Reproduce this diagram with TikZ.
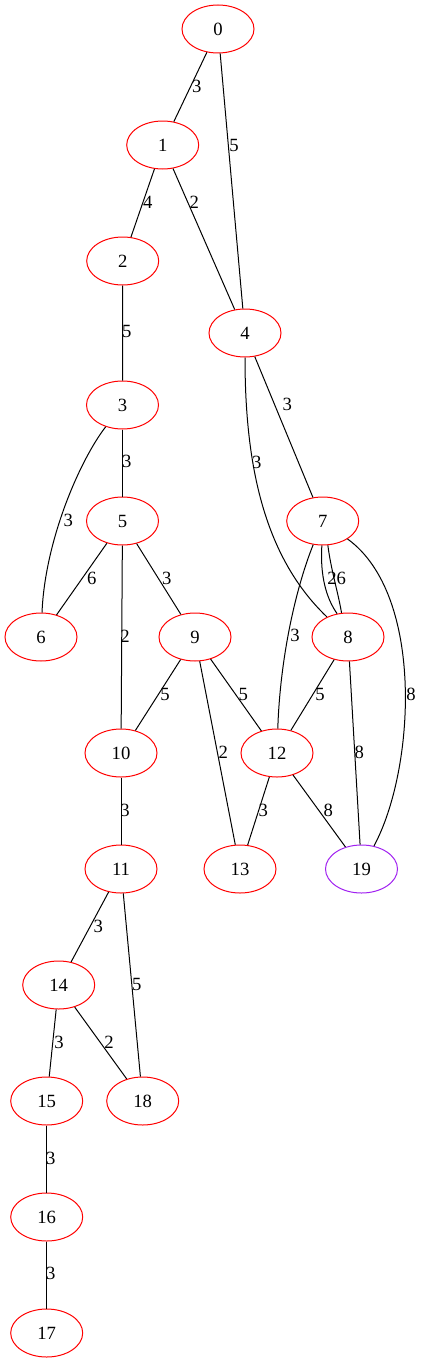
\documentclass[tikz,border=0pt]{standalone}
\usepackage{fontspec}
\setmainfont{Liberation Serif}
\usetikzlibrary{shapes.geometric}
\definecolor{gvpurple}{HTML}{A020F0}
\begin{document}
\begin{tikzpicture}[x=0.75pt,y=-0.75pt,
  gnode/.style={ellipse, draw=red, line width=0.75pt, minimum width=54pt, minimum height=36pt, inner sep=0pt, font=\fontsize{14}{16}\selectfont},
  elbl/.style={inner sep=0pt, font=\fontsize{14}{16}\selectfont},
  gedge/.style={line width=0.75pt, draw=black}]
\useasboundingbox (0,0) rectangle (421,1363);
% nodes
\node[gnode] (n0) at (218,29) {0};
\node[gnode] (n1) at (162.7,145) {1};
\node[gnode] (n2) at (122.7,261) {2};
\node[gnode] (n4) at (245,333) {4};
\node[gnode] (n3) at (122.5,405) {3};
\node[gnode] (n5) at (122.5,521) {5};
\node[gnode] (n7) at (322.7,521) {7};
\node[gnode] (n6) at (41,637) {6};
\node[gnode] (n9) at (195,637) {9};
\node[gnode] (n8) at (348,637) {8};
\node[gnode] (n10) at (121,753) {10};
\node[gnode] (n12) at (277,753) {12};
\node[gnode] (n11) at (121,869) {11};
\node[gnode] (n13) at (240,869) {13};
\node[gnode, draw=gvpurple] (n19) at (361.5,869) {19};
\node[gnode] (n14) at (58.7,985) {14};
\node[gnode] (n15) at (46.7,1101) {15};
\node[gnode] (n18) at (142.7,1101) {18};
\node[gnode] (n16) at (46.7,1217) {16};
\node[gnode] (n17) at (46.7,1333) {17};
% edges
\draw[gedge] (n0) -- (n1);
\draw[gedge] (n0) -- (n4);
\draw[gedge] (n1) -- (n2);
\draw[gedge] (n1) -- (n4);
\draw[gedge] (n2) -- (n3);
\draw[gedge] (n4) -- (n7);
\draw[gedge] (n4) .. controls (245,460) and (262,555) .. (n8);
\draw[gedge] (n3) -- (n5);
\draw[gedge] (n3) .. controls (80,460) and (45,540) .. (n6);
\draw[gedge] (n5) -- (n6);
\draw[gedge] (n5) -- (n9);
\draw[gedge] (n5) -- (n10);
\draw[gedge] (n7.268) .. controls (320,575) and (326,598) .. (n8.115);
\draw[gedge] (n7.282) .. controls (331,570) and (338,592) .. (n8.105);
\draw[gedge] (n7) .. controls (295,590) and (280,660) .. (n12);
\draw[gedge] (n7) .. controls (425,595) and (415,770) .. (n19);
\draw[gedge] (n9) -- (n10);
\draw[gedge] (n9) -- (n12);
\draw[gedge] (n9) -- (n13);
\draw[gedge] (n8) -- (n12);
\draw[gedge] (n8) -- (n19);
\draw[gedge] (n12) -- (n13);
\draw[gedge] (n12) -- (n19);
\draw[gedge] (n10) -- (n11);
\draw[gedge] (n11) -- (n14);
\draw[gedge] (n11) -- (n18);
\draw[gedge] (n14) -- (n15);
\draw[gedge] (n14) -- (n18);
\draw[gedge] (n15) -- (n16);
\draw[gedge] (n16) -- (n17);
% edge labels
\node[elbl] (l01) at (196.7,86.7) {3};
\node[elbl] (l04) at (234,145) {5};
\node[elbl] (l12) at (147.7,202.7) {4};
\node[elbl] (l14) at (194.3,202.7) {2};
\node[elbl] (l23) at (126.7,331.7) {5};
\node[elbl] (l47) at (287.3,404.3) {3};
\node[elbl] (l48) at (256.7,462.3) {3};
\node[elbl] (l35) at (126.7,461.7) {3};
\node[elbl] (l36) at (68.3,520) {3};
\node[elbl] (l56) at (91.7,578) {6};
\node[elbl] (l59) at (166.7,578) {3};
\node[elbl] (l510) at (125,636) {2};
\node[elbl] (l78) at (336.7,578.3) {26};
\node[elbl] (l712) at (295,635.7) {3};
\node[elbl] (l719) at (411,694.3) {8};
\node[elbl] (l910) at (165,694.3) {5};
\node[elbl] (l912) at (243.3,694.3) {5};
\node[elbl] (l812) at (320,694.3) {5};
\node[elbl] (l913) at (223.3,752.7) {2};
\node[elbl] (l819) at (359.3,752.7) {8};
\node[elbl] (l1011) at (125,810) {3};
\node[elbl] (l1213) at (263.3,810) {3};
\node[elbl] (l1219) at (328.3,810) {8};
\node[elbl] (l1114) at (98.3,926.7) {3};
\node[elbl] (l1118) at (136.7,984.3) {5};
\node[elbl] (l1415) at (59,1042.3) {3};
\node[elbl] (l1418) at (109,1042.3) {2};
\node[elbl] (l1516) at (50.7,1158.3) {3};
\node[elbl] (l1617) at (50.7,1273.3) {3};
\end{tikzpicture}
\end{document}
